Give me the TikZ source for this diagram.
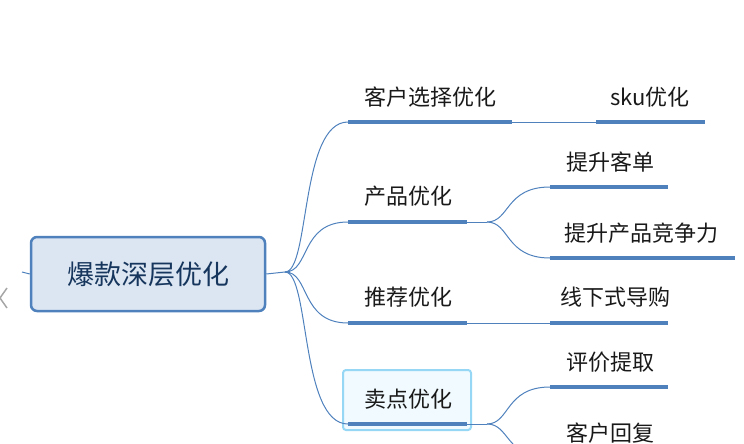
\documentclass[tikz,border=0pt]{standalone}
\usepackage{fontspec}
\newfontfamily\cjk{Noto Sans CJK SC}
\begin{document}
\begin{tikzpicture}[x=1pt,y=-1pt,
  lbl/.style={font=\cjk\fontsize{22}{26}\selectfont, text=black!90, inner sep=0pt},
  ul/.style={line width=4pt, draw={rgb,255:red,79;green,129;blue,189}},
  conn/.style={line width=1pt, draw={rgb,255:red,79;green,129;blue,189}}]
\useasboundingbox (0,0) rectangle (744,444);
\clip (0,0) rectangle (744,444);
% root
\node[draw={rgb,255:red,79;green,129;blue,189}, line width=2.5pt, fill={rgb,255:red,220;green,230;blue,242}, rounded corners=6pt, minimum width=234pt, minimum height=74pt, font=\cjk\fontsize{27}{32}\selectfont, text={rgb,255:red,23;green,54;blue,93}] (root) at (148,274) {爆款深层优化};
\draw[gray!70, line width=1.5pt] (7,288) -- (0,298) -- (7,308);
\coordinate (rl) at (22,272);
\draw[conn] (rl) -- (root.west);
\coordinate (o) at (285,272);
\draw[conn] (root.east) -- (o);
% level 1 underlines
\coordinate (a1) at (348,122); \coordinate (a2) at (512,122);
\coordinate (b1) at (348,222); \coordinate (b2) at (467,222);
\coordinate (c1) at (348,323); \coordinate (c2) at (467,323);
\coordinate (d1) at (348,424); \coordinate (d2) at (467,424);
\node[draw={rgb,255:red,150;green,215;blue,245}, line width=2pt, fill={rgb,255:red,240;green,250;blue,255}, rounded corners=3pt, minimum width=128pt, minimum height=60pt] (hl) at (407,400) {};
\foreach \p/\q in {a1/a2,b1/b2,c1/c2,d1/d2} \draw[ul] (\p) -- (\q);
\draw[conn] (o) .. controls (310,272) and (300,122) .. (a1);
\draw[conn] (o) .. controls (310,272) and (300,222) .. (b1);
\draw[conn] (o) .. controls (310,272) and (300,323) .. (c1);
\draw[conn] (o) .. controls (310,272) and (300,424) .. (d1);
\node[lbl] (ta) at (430,97) {客户选择优化};
\node[lbl] (tb) at (408,196) {产品优化};
\node[lbl] (tc) at (408,297) {推荐优化};
\node[lbl] (td) at (408,399) {卖点优化};
% level 2
\coordinate (e1) at (596,122); \coordinate (e2) at (705,122);
\coordinate (f1) at (550,187); \coordinate (f2) at (668,187);
\coordinate (g1) at (550,258); \coordinate (g2) at (735,258);
\coordinate (h1) at (550,323); \coordinate (h2) at (668,323);
\coordinate (i1) at (550,387); \coordinate (i2) at (668,387);
\coordinate (j1) at (550,458); \coordinate (j2) at (668,458);
\foreach \p/\q in {e1/e2,f1/f2,g1/g2,h1/h2,i1/i2,j1/j2} \draw[ul] (\p) -- (\q);
\draw[conn] (a2) -- (e1);
\coordinate (bo) at (487,222);
\draw[conn] (b2) -- (bo);
\draw[conn] (bo) .. controls (510,222) and (505,187) .. (f1);
\draw[conn] (bo) .. controls (510,222) and (505,258) .. (g1);
\draw[conn] (c2) -- (h1);
\coordinate (do) at (487,424);
\draw[conn] (d2) -- (do);
\draw[conn] (do) .. controls (510,424) and (505,387) .. (i1);
\draw[conn] (do) .. controls (510,424) and (505,458) .. (j1);
\node[lbl] (te) at (650,97) {sku优化};
\node[lbl] (tf) at (610,162) {提升客单};
\node[lbl] (tg) at (641,233) {提升产品竞争力};
\node[lbl] (th) at (615,297) {线下式导购};
\node[lbl] (ti) at (610,362) {评价提取};
\node[lbl] (tj) at (610,433) {客户回复};
\end{tikzpicture}
\end{document}
